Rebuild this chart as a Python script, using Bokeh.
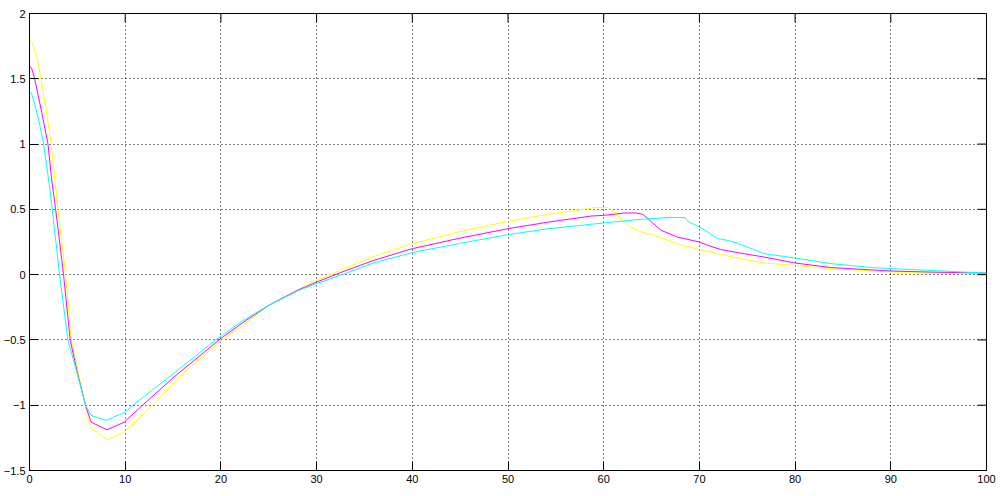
from bokeh.plotting import figure
from bokeh.models import FixedTicker, Range1d
from bokeh.embed import file_html
from bokeh.resources import INLINE

# ---- data ----
x_ticks = [0, 10, 20, 30, 40, 50, 60, 70, 80, 90, 100]
y_ticks = [-1.5, -1.0, -0.5, 0.0, 0.5, 1.0, 1.5, 2.0]
x_min, x_max = 0, 100
y_min, y_max = -1.5, 2.0

yellow_x = [0, 0.3, 0.7, 1.2, 1.75, 2.27, 2.6, 2.97, 3.37, 3.77, 4.36, 4.9, 5.4, 5.85, 6.33, 8.1,
            9.9, 12.86, 16, 20.16, 22.24, 25, 28, 30, 32.66, 36, 40, 45, 50, 54, 57.66, 59,
            60.5, 61.2, 62.17, 62.9, 63.9, 65.3, 66.7, 68.1, 70, 72.2, 74.3, 76.75, 80, 83.8,
            90, 94.1, 100]
yellow_y = [1.8, 1.77, 1.69, 1.5, 1.26, 1.0, 0.76, 0.5, 0.25, 0.0, -0.5, -0.68, -0.85, -1.0,
            -1.168, -1.264, -1.206, -1.0, -0.76, -0.5, -0.39, -0.235, -0.115, -0.045, 0.038,
            0.14, 0.238, 0.33, 0.408, 0.46, 0.498, 0.513, 0.513, 0.47, 0.403, 0.36, 0.327,
            0.301, 0.263, 0.225, 0.192, 0.156, 0.123, 0.089, 0.071, 0.046, 0.02, 0.017, 0.008]

magenta_x = [0, 0.25, 0.54, 1.23, 1.93, 2.3, 2.73, 3.15, 3.56, 4.25, 5.0, 5.85, 6.44, 8.1, 9.9,
             11.82, 15, 19.8, 22.24, 25, 28, 30, 32.66, 36, 40, 45, 50, 54, 58.7, 60, 62.2,
             63.4, 64.1, 65, 66, 67.7, 70, 70.85, 72.24, 74.3, 76.75, 80, 83.8, 90, 94, 100]
magenta_y = [1.6, 1.575, 1.5, 1.26, 1.0, 0.74, 0.5, 0.25, 0.0, -0.5, -0.75, -1.0, -1.13,
             -1.188, -1.13, -1.0, -0.79, -0.5, -0.37, -0.235, -0.12, -0.057, 0.02, 0.11,
             0.199, 0.28, 0.352, 0.40, 0.449, 0.454, 0.472, 0.472, 0.462, 0.403, 0.34, 0.288,
             0.25, 0.225, 0.192, 0.165, 0.135, 0.089, 0.054, 0.028, 0.02, 0.012]

cyan_x = [0, 0.2, 0.54, 1.0, 1.48, 2.1, 2.38, 2.76, 3.14, 4.01, 5.0, 5.85, 6.44, 8.0, 10,
          10.78, 15, 19.46, 22.24, 25, 28, 30, 32.66, 36, 40, 45, 50, 54, 58.7, 60, 63.4,
          66.7, 68.5, 68.9, 70, 70.85, 71.9, 72.9, 73.8, 75.4, 76.75, 80, 83.8, 88, 90, 94.1,
          97.6, 100]
cyan_y = [1.4, 1.39, 1.31, 1.17, 1.0, 0.67, 0.5, 0.25, 0.0, -0.5, -0.76, -1.0, -1.078, -1.116,
          -1.053, -1.0, -0.76, -0.5, -0.355, -0.235, -0.125, -0.069, 0.0, 0.09, 0.169, 0.24,
          0.306, 0.35, 0.386, 0.396, 0.421, 0.437, 0.437, 0.403, 0.365, 0.327, 0.276, 0.263,
          0.245, 0.2, 0.161, 0.127, 0.084, 0.054, 0.046, 0.033, 0.02, 0.012]

FONT = "Liberation Sans"
FSIZE = "11px"
TICK = 9

p = figure(width=996, height=488,
           x_range=Range1d(x_min, x_max), y_range=Range1d(y_min, y_max),
           output_backend="svg", toolbar_location=None, title=None,
           min_border_left=26, min_border_right=10, min_border_top=13, min_border_bottom=18)
p.background_fill_color = "white"
p.border_fill_color = "white"
p.outline_line_color = "black"
p.outline_line_width = 1
p.outline_line_alpha = 1.0

xt = FixedTicker(ticks=x_ticks, minor_ticks=[])
yt = FixedTicker(ticks=y_ticks, minor_ticks=[])
p.xaxis.ticker = xt
p.yaxis.ticker = yt

for ax in (p.xaxis[0], p.yaxis[0]):
    ax.axis_line_color = "black"
    ax.major_tick_in = TICK
    ax.major_tick_out = 0
    ax.minor_tick_in = 0
    ax.minor_tick_out = 0
    ax.major_tick_line_color = "black"
    ax.major_label_text_font = FONT
    ax.major_label_text_font_size = FSIZE
    ax.major_label_text_color = "black"
p.xaxis.major_label_standoff = 4
p.yaxis.major_label_standoff = 4

p.xgrid.ticker = xt
p.ygrid.ticker = yt
for g in (p.xgrid[0], p.ygrid[0]):
    g.grid_line_color = "black"
    g.grid_line_dash = "1 3"
    g.grid_line_width = 1
    g.grid_line_alpha = 1.0

# inward tick marks on the top and right edges of the box
p.ray(x=x_ticks, y=[y_max] * len(x_ticks), length=TICK, length_units="screen",
      angle=-90, angle_units="deg", line_color="black", line_width=1)
p.ray(x=[x_max] * len(y_ticks), y=y_ticks, length=TICK, length_units="screen",
      angle=180, angle_units="deg", line_color="black", line_width=1)

p.line(yellow_x, yellow_y, line_color="#FFFF00", line_width=1)
p.line(magenta_x, magenta_y, line_color="#FF00FF", line_width=1)
p.line(cyan_x, cyan_y, line_color="#00FFFF", line_width=1)

open("out.html", "w").write(file_html(p, INLINE))
